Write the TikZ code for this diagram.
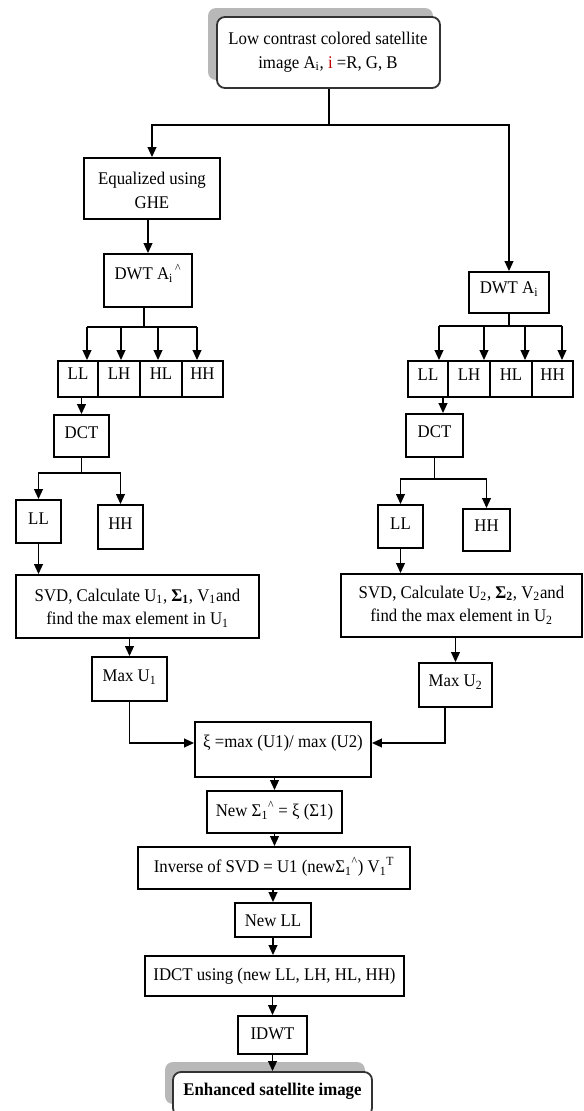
\documentclass[tikz,border=0pt]{standalone}
\usepackage{fontspec}
\setmainfont{Liberation Serif}[FakeStretch=0.94]
\usetikzlibrary{arrows.meta,fit}
\begin{document}
\begin{tikzpicture}[x=0.75pt,y=-0.75pt,
  box/.style={draw, line width=1.35pt, inner sep=0pt, fill=white},
  rbox/.style={box, rounded corners=6pt, draw=black!80},
  shad/.style={fill=black!28, rounded corners=6pt},
  txt/.style={inner sep=0pt, font=\fontsize{13.4}{17.6}\selectfont, align=center},
  arr/.style={line width=1.35pt, -{Triangle[length=7.5pt,width=6.5pt]}},
  ln/.style={line width=1.35pt}]
\useasboundingbox (0,0) rectangle (584,1111);
% ---------- top
\fill[shad] (208,8) rectangle (433,80);
\node[rbox, fit={(217,17)(440,88)}] (top) {};
\node[txt] (topt) at (328,52) {Low contrast colored satellite\\image A\textsubscript{i}, {\color{red!75!black}i} =R, G, B};
% ---------- left column
\node[box, fit={(84,158)(220,219)}] (eq) {};
\node[txt] (eqt) at (152,190.5) {Equalized using\\GHE};
\node[box, fit={(104,254)(192,307)}] (dwa) {};
\node[txt] (dwat) at (148,273) {DWT A\textsubscript{i}\textsuperscript{\,\^{}}};
\node[box, fit={(58,361)(98,397)}] (c11) {};
\node[box, fit={(98,361)(140,397)}] (c12) {};
\node[box, fit={(140,361)(182,397)}] (c13) {};
\node[box, fit={(182,361)(223,397)}] (c14) {};
\node[txt] (c11t) at (78,374) {LL};
\node[txt] (c12t) at (119,374) {LH};
\node[txt] (c13t) at (161,374) {HL};
\node[txt] (c14t) at (202.5,374) {HH};
\node[box, fit={(54,415)(109,457)}] (dca) {};
\node[txt] (dcat) at (81.5,433) {DCT};
\node[box, fit={(16,500)(61,543)}] (lla) {};
\node[txt] (llat) at (38.5,519) {LL};
\node[box, fit={(98,505)(143,549)}] (hha) {};
\node[txt] (hhat) at (120.5,524) {HH};
\node[box, fit={(16,575)(259,638)}] (sva) {};
\node[txt] (svat) at (137.5,608) {SVD, Calculate U\textsubscript{1}, \textbf{Σ\textsubscript{1}}, V\textsubscript{1}and\\find the max element in U\textsubscript{1}};
\node[box, fit={(92,657)(167,701)}] (mxa) {};
\node[txt] (mxat) at (129.5,677) {Max U\textsubscript{1}};
% ---------- right column
\node[box, fit={(469,272)(549,313)}] (dwb) {};
\node[txt] (dwbt) at (509,289) {DWT A\textsubscript{i}};
\node[box, fit={(408,361)(448,397)}] (c21) {};
\node[box, fit={(448,361)(490,397)}] (c22) {};
\node[box, fit={(490,361)(532,397)}] (c23) {};
\node[box, fit={(532,361)(573,397)}] (c24) {};
\node[txt] (c21t) at (428,375) {LL};
\node[txt] (c22t) at (469,375) {LH};
\node[txt] (c23t) at (511,375) {HL};
\node[txt] (c24t) at (552.5,375) {HH};
\node[box, fit={(406,414)(463,457)}] (dcb) {};
\node[txt] (dcbt) at (434.5,432) {DCT};
\node[box, fit={(378,505)(423,548)}] (llb) {};
\node[txt] (llbt) at (400.5,524) {LL};
\node[box, fit={(463,509)(510,551)}] (hhb) {};
\node[txt] (hhbt) at (486.5,526) {HH};
\node[box, fit={(341,574)(582,637)}] (svb) {};
\node[txt] (svbt) at (461.5,605) {SVD, Calculate U\textsubscript{2}, \textbf{Σ\textsubscript{2}}, V\textsubscript{2}and\\find the max element in U\textsubscript{2}};
\node[box, fit={(419,663)(492,707)}] (mxb) {};
\node[txt] (mxbt) at (455.5,682) {Max U\textsubscript{2}};
% ---------- merge
\node[box, fit={(195,722)(371,777)}] (xi) {};
\node[txt] (xit) at (283,743) {ξ =max (U1)/ max (U2)};
\node[box, fit={(207,791)(342,833)}] (ns) {};
\node[txt] (nst) at (274.5,811) {New Σ\textsubscript{1}\textsuperscript{\^{}} = ξ (Σ1)};
\node[box, fit={(138,847)(410,889)}] (inv) {};
\node[txt] (invt) at (274,867) {Inverse of SVD = U1 (newΣ\textsubscript{1}\textsuperscript{\^{}}) V\textsubscript{1}\textsuperscript{T}};
\node[box, fit={(235,903)(311,937)}] (nll) {};
\node[txt] (nllt) at (273,921) {New LL};
\node[box, fit={(145,956)(404,996)}] (idct) {};
\node[txt] (idctt) at (274.5,976) {IDCT using (new LL, LH, HL, HH)};
\node[box, fit={(238,1016)(307,1054)}] (idwt) {};
\node[txt] (idwtt) at (272.5,1034) {IDWT};
\fill[shad] (165,1062) rectangle (365,1104);
\node[rbox, fit={(173,1072)(372,1116)}] (enh) {};
\node[txt, font=\fontsize{13.4}{17.6}\selectfont\bfseries] (enht) at (272.5,1091) {Enhanced satellite image};
% ---------- connectors
\coordinate (s0) at (329,125);
\draw[ln] (top.south -| s0) -- (s0);
\draw[arr] (s0) -| (eq.north);
\draw[arr] (s0) -| (dwb.north);
\draw[arr] (eq.south -| dwa.north) -- (dwa.north);
% left DWT split
\coordinate (s1) at (144,327);
\coordinate (a11) at (87,327);
\coordinate (a12) at (121,327);
\coordinate (a13) at (158,327);
\coordinate (a14) at (197,327);
\draw[ln] (dwa.south -| s1) -- (s1);
\draw[ln] (a11) -- (a14);
\draw[arr] (a11) -- (a11 |- c11.north);
\draw[arr] (a12) -- (a12 |- c12.north);
\draw[arr] (a13) -- (a13 |- c13.north);
\draw[arr] (a14) -- (a14 |- c14.north);
\draw[arr] (c11.south -| dca.north) -- (dca.north);
\coordinate (s2) at (81.5,473);
\draw[ln] (dca.south) -- (s2);
\draw[arr] (s2) -| (lla.north);
\draw[arr] (s2) -| (hha.north);
\draw[arr] (lla.south) -- (lla.south |- sva.north);
\draw[arr] (sva.south -| mxa.north) -- (mxa.north);
% right DWT split
\coordinate (s3) at (509,326);
\coordinate (a21) at (439,326);
\coordinate (a22) at (484,326);
\coordinate (a23) at (525,326);
\coordinate (a24) at (562,326);
\draw[ln] (dwb.south) -- (s3);
\draw[ln] (a21) -- (a24);
\draw[arr] (a21) -- (a21 |- c21.north);
\draw[arr] (a22) -- (a22 |- c22.north);
\draw[arr] (a23) -- (a23 |- c23.north);
\draw[arr] (a24) -- (a24 |- c24.north);
\coordinate (d2) at (443,397);
\draw[arr] (c21.south -| d2) -- (d2 |- dcb.north);
\coordinate (s4) at (434.5,479);
\draw[ln] (dcb.south) -- (s4);
\draw[arr] (s4) -| (llb.north);
\draw[arr] (s4) -| (hhb.north);
\draw[arr] (llb.south) -- (llb.south |- svb.north);
\draw[arr] (svb.south -| mxb.north) -- (mxb.north);
% merge
\coordinate (ma) at (129.5,743);
\coordinate (mb) at (445,743);
\draw[arr] (mxa.south) -- (ma) -- (ma -| xi.west);
\draw[arr] (mxb.south -| mb) -- (mb) -- (mb -| xi.east);
\draw[arr] (xi.south -| ns.north) -- (ns.north);
\draw[arr] (ns.south) -- (ns.south |- inv.north);
\draw[arr] (inv.south -| nll.north) -- (nll.north);
\draw[arr] (nll.south) -- (nll.south |- idct.north);
\draw[arr] (idct.south -| idwt.north) -- (idwt.north);
\draw[arr] (idwt.south) -- (idwt.south |- enh.north);
\end{tikzpicture}
\end{document}
